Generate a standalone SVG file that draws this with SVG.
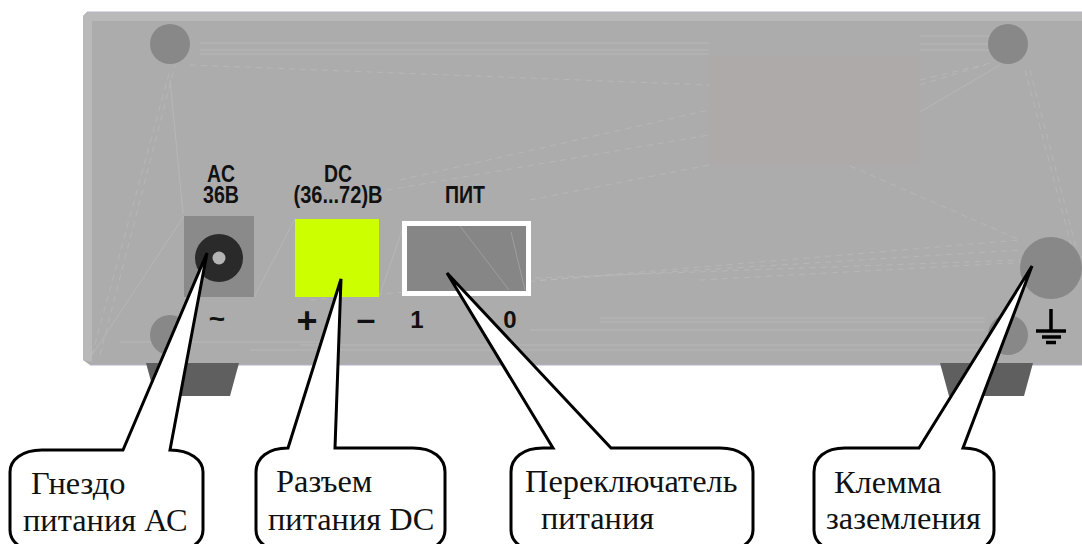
<svg xmlns="http://www.w3.org/2000/svg" width="1082" height="544" viewBox="0 0 1082 544">
<style>
.hw{font-family:"Liberation Sans",Arial,sans-serif;font-weight:700;fill:#111;text-anchor:middle}
.cap{font-family:"Liberation Serif","Times New Roman",serif;font-size:32.4px;fill:#111}
.bub{fill:#fff;stroke:#000;stroke-width:3;stroke-linejoin:miter}
.scr{fill:#888}
.tex{stroke:#bcbcbc;stroke-width:.7;fill:none}
.dash{stroke-dasharray:6 5}
</style>
<rect width="1082" height="544" fill="#fff"/>
<g id="panel">
<path d="M87 12H1082V365H90L83 360V16Z" fill="#acacac"/>
<path d="M87 12H1082V21H92V362L83 360V16Z" fill="#b9b9b9"/>
<path d="M87 12H1082M90 365H1082" stroke="#b4b2cc" fill="none"/>
<g class="tex">
<path d="M200 43H709M200 50H709M200 54H709M920 36H990M920 44H990M920 50H990"/>
<path class="dash" d="M190 65L709 85M400 180L709 110M300 205L709 135M530 200L709 165M310 300L1020 240"/>
<path class="dash" d="M92 355L170 70M100 355L175 65M920 80L995 62M920 85L985 65M1025 70L1075 260M1030 70L1078 255"/>
<path class="dash" d="M540 280L1020 250M700 280L1030 262M480 280L1020 260M850 166L1020 240"/>
<path d="M92 355L184 216M920 112L1000 65M170 80L183 213M379 297L405 222M295 219L254 297"/>
<path d="M120 342H320M250 350H985M530 330H985M600 322H985M600 318H985M300 345H985"/>
</g>
</g>
<g id="screw-top-left"><circle class="scr" cx="170" cy="44" r="20"/></g>
<g id="screw-top-right"><circle class="scr" cx="1008" cy="44" r="20"/></g>
<g id="screw-bottom-left"><circle class="scr" cx="170" cy="335" r="20"/></g>
<g id="screw-bottom-right"><circle class="scr" cx="1008" cy="335" r="20"/></g>
<g id="foot-left"><path d="M146 363H239L230 396H155Z" fill="#5f5f5f"/></g>
<g id="foot-right"><path d="M940 363H1033L1024 396H949Z" fill="#5f5f5f"/></g>
<g id="display"><rect x="709" y="56" width="211" height="109" fill="#aeaaaa"/></g>
<g id="ac-jack">
<rect x="184" y="216" width="70" height="81" fill="#8a8a8a"/>
<circle cx="219" cy="258" r="24" fill="#2a2a2a"/>
<circle cx="219" cy="258" r="6.5" fill="#b4b4b4"/>
<text class="hw" x="221" y="182" font-size="23" textLength="28" lengthAdjust="spacingAndGlyphs">AC</text>
<text class="hw" x="221" y="203" font-size="23" textLength="36" lengthAdjust="spacingAndGlyphs">36В</text>
<text class="hw" x="217" y="328" font-size="28">~</text>
</g>
<g id="dc-socket">
<rect x="295" y="219" width="84" height="78" fill="#ccff00"/>
<text class="hw" x="338" y="182" font-size="23" textLength="28" lengthAdjust="spacingAndGlyphs">DC</text>
<text class="hw" x="338" y="203" font-size="23" textLength="89" lengthAdjust="spacingAndGlyphs">(36...72)В</text>
<text class="hw" x="307" y="333" font-size="36">+</text>
<text class="hw" x="366" y="330" font-size="34">–</text>
</g>
<g id="power-switch">
<rect x="404.500" y="223.500" width="124" height="70" fill="#868686" stroke="#fff" stroke-width="5"/>
<path d="M460 226L509 290M511 232L525 290" stroke="#a8a8a8" stroke-width=".7" fill="none"/>
<text class="hw" x="465" y="203" font-size="23" textLength="40" lengthAdjust="spacingAndGlyphs">ПИТ</text>
<text class="hw" x="417" y="328" font-size="24">1</text>
<text class="hw" x="510" y="328" font-size="24">0</text>
</g>
<g id="ground-terminal">
<circle cx="1051" cy="268" r="31" fill="#888"/>
<path d="M1051 309V331M1036 331H1066M1042 337H1061M1046 342.500H1056" stroke="#000" stroke-width="3.500" fill="none"/>
</g>
<g id="callout-ac">
<path class="bub" d="M123 450L207 253L170 450C190 450 203 460 203 472V530C203 542 190 552 170 552H42C22 552 10 542 10 530V472C10 460 22 450 42 450Z"/>
<text class="cap" x="31" y="494">Гнездо</text>
<text class="cap" x="23" y="531">питания АС</text>
</g>
<g id="callout-dc">
<path class="bub" d="M288 448L341 279L335 448H413C433 448 445 458 445 472V530C445 542 433 552 413 552H288C268 552 256 542 256 530V472C256 458 268 448 288 448Z"/>
<text class="cap" x="276" y="492">Разъем</text>
<text class="cap" x="268" y="530">питания DC</text>
</g>
<g id="callout-switch">
<path class="bub" d="M553 448L447 273L611 448H720C740 448 753 458 753 472V530C753 542 740 552 720 552H543C523 552 511 542 511 530V472C511 458 523 448 543 448Z"/>
<text class="cap" x="525" y="492">Переключатель</text>
<text class="cap" x="541" y="529">питания</text>
</g>
<g id="callout-ground">
<path class="bub" d="M919 448L1032 266L963 448C983 448 994 458 994 472V530C994 542 983 552 963 552H845C825 552 814 542 814 530V472C814 458 825 448 845 448Z"/>
<text class="cap" x="834" y="493">Клемма</text>
<text class="cap" x="826" y="529">заземления</text>
</g>
</svg>
